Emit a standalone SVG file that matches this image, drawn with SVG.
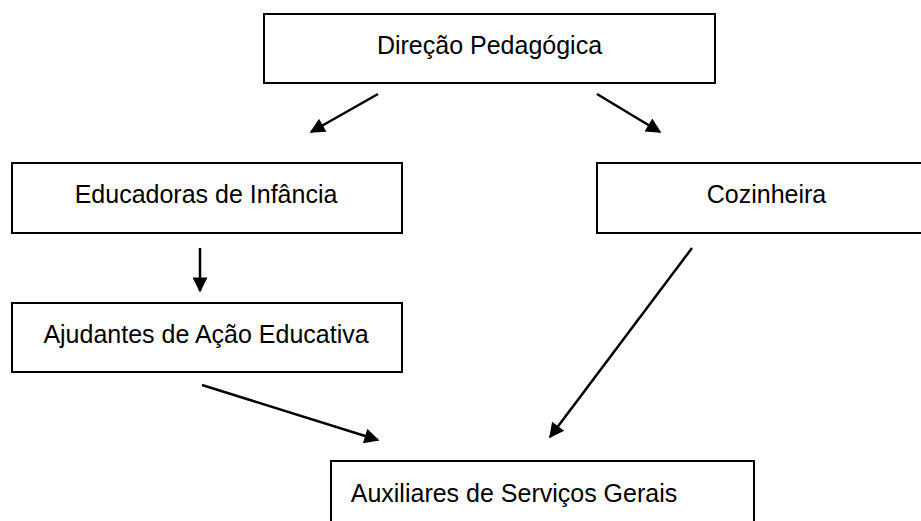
<svg xmlns="http://www.w3.org/2000/svg" width="921" height="521" viewBox="0 0 921 521">
<style>
.box{fill:#fff;stroke:#000;stroke-width:2}
.lbl{font-family:"Liberation Sans","Open Sans",sans-serif;font-size:25px;fill:#000;text-anchor:middle}
.con{stroke:#000;stroke-width:2.5;fill:none;marker-end:url(#ah)}
</style>
<defs>
<marker id="ah" viewBox="0 0 10 10" refX="9" refY="5" markerWidth="7" markerHeight="6" markerUnits="strokeWidth" orient="auto">
<path d="M0,0 L10,5 L0,10 z" fill="#000"/>
</marker>
</defs>
<rect width="921" height="521" fill="#fff"/>
<g id="direcao">
<rect class="box" x="264" y="14" width="451" height="69"/>
<text class="lbl" x="489.5" y="54">Direção Pedagógica</text>
</g>
<g id="educadoras">
<rect class="box" x="12" y="163" width="390" height="70"/>
<text class="lbl" x="206" y="203">Educadoras de Infância</text>
</g>
<g id="cozinheira">
<rect class="box" x="597" y="163" width="340" height="70"/>
<text class="lbl" x="766.5" y="203">Cozinheira</text>
</g>
<g id="ajudantes">
<rect class="box" x="12" y="303" width="390" height="69"/>
<text class="lbl" x="206" y="343">Ajudantes de Ação Educativa</text>
</g>
<g id="auxiliares">
<rect class="box" x="331" y="461" width="423" height="80"/>
<text class="lbl" x="514" y="502">Auxiliares de Serviços Gerais</text>
</g>
<g id="connectors">
<line class="con" x1="378" y1="94" x2="311" y2="132"/>
<line class="con" x1="597" y1="94" x2="660" y2="132"/>
<line class="con" x1="200" y1="248" x2="200" y2="291"/>
<line class="con" x1="202" y1="385" x2="378" y2="440"/>
<line class="con" x1="692" y1="248" x2="550" y2="437"/>
</g>
</svg>
